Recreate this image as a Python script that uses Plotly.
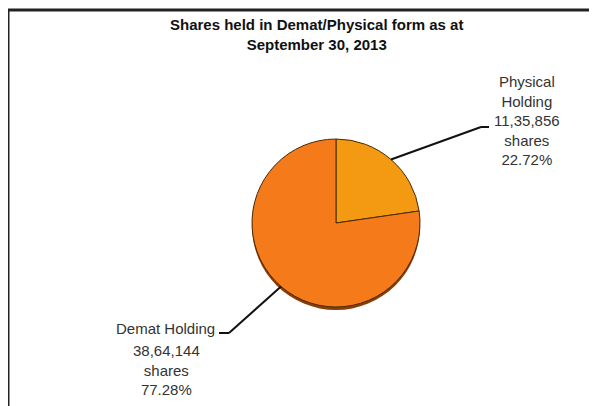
import math
import plotly.graph_objects as go

# ---- data ----
labels = ["Physical Holding", "Demat Holding"]
shares = [1135856, 3864144]
share_text = ["11,35,856", "38,64,144"]
pct_text = ["22.72%", "77.28%"]
colors = ["#F39A12", "#F47A1A"]
title_lines = ["Shares held in Demat/Physical form as at", "September 30, 2013"]

W, H = 597, 406
OFF = 8  # page body margin offset
cx, cy, r = 336, 223, 84  # pie centre / radius in screen pixels


def px(x):
    return (x - OFF) / W


def py(y):
    return 1 - (y - OFF) / H


fig = go.Figure()

# shadow (3D base)
fig.add_trace(go.Pie(
    values=[1], marker=dict(colors=["#8A3E06"], line=dict(width=0)),
    textinfo="none", hoverinfo="skip", showlegend=False, sort=False,
    domain=dict(x=[px(cx - r), px(cx + r)], y=[py(cy + r + 3), py(cy - r + 3)]),
))

fig.add_trace(go.Pie(
    labels=labels, values=shares, sort=False, direction="clockwise", rotation=0,
    marker=dict(colors=colors, line=dict(color="#4a2a05", width=1)),
    textinfo="none", showlegend=False,
    domain=dict(x=[px(cx - r), px(cx + r)], y=[py(cy + r), py(cy - r)]),
))

total = sum(shares)
shapes = []
annotations = []

cum = 0
label_cfg = [
    dict(elbow=(481, 127), end=(489, 127)),
    dict(elbow=(229, 333), end=(219, 333)),
]
for i, v in enumerate(shares):
    mid = cum + v / 2
    cum += v
    ang = math.radians(90 - 360 * mid / total)
    sx = cx + r * math.cos(ang)
    sy = cy - r * math.sin(ang)
    c = label_cfg[i]
    shapes.append(dict(type="line", xref="paper", yref="paper",
                       x0=px(sx), y0=py(sy), x1=px(c["elbow"][0]), y1=py(c["elbow"][1]),
                       line=dict(color="#111111", width=2)))
    shapes.append(dict(type="line", xref="paper", yref="paper",
                       x0=px(c["elbow"][0]), y0=py(c["elbow"][1]), x1=px(c["end"][0]), y1=py(c["end"][1]),
                       line=dict(color="#111111", width=2)))

lab_font = dict(family="Liberation Sans, Arial", size=15, color="#333333")
phys_text = "Physical<br>Holding<br>" + share_text[0] + "<br>shares<br>" + pct_text[0]
annotations.append(dict(text=phys_text, x=px(527), y=py(121), xref="paper", yref="paper",
                        showarrow=False, xanchor="center", yanchor="middle", font=lab_font))
annotations.append(dict(text=labels[1], x=px(217), y=py(328), xref="paper", yref="paper",
                        showarrow=False, xanchor="right", yanchor="middle", font=lab_font))
annotations.append(dict(text=share_text[1] + "<br>shares<br>" + pct_text[1], x=px(166), y=py(370),
                        xref="paper", yref="paper", showarrow=False, xanchor="center", yanchor="middle",
                        font=lab_font))

annotations.append(dict(text="<b>" + "<br>".join(title_lines) + "</b>", x=px(316), y=py(35),
                        xref="paper", yref="paper", showarrow=False, xanchor="center", yanchor="middle",
                        font=dict(family="Liberation Sans, Arial", size=15, color="#111111")))

# frame border
shapes.append(dict(type="line", xref="paper", yref="paper", x0=px(7), y0=py(10), x1=1, y1=py(10),
                   line=dict(color="#222222", width=3)))
shapes.append(dict(type="line", xref="paper", yref="paper", x0=px(8), y0=py(9), x1=px(8), y1=0,
                   line=dict(color="#222222", width=3)))

fig.update_layout(width=W, height=H, autosize=False, margin=dict(l=0, r=0, t=0, b=0),
                  paper_bgcolor="white", plot_bgcolor="white",
                  shapes=shapes, annotations=annotations)

fig.write_html("out.html")
